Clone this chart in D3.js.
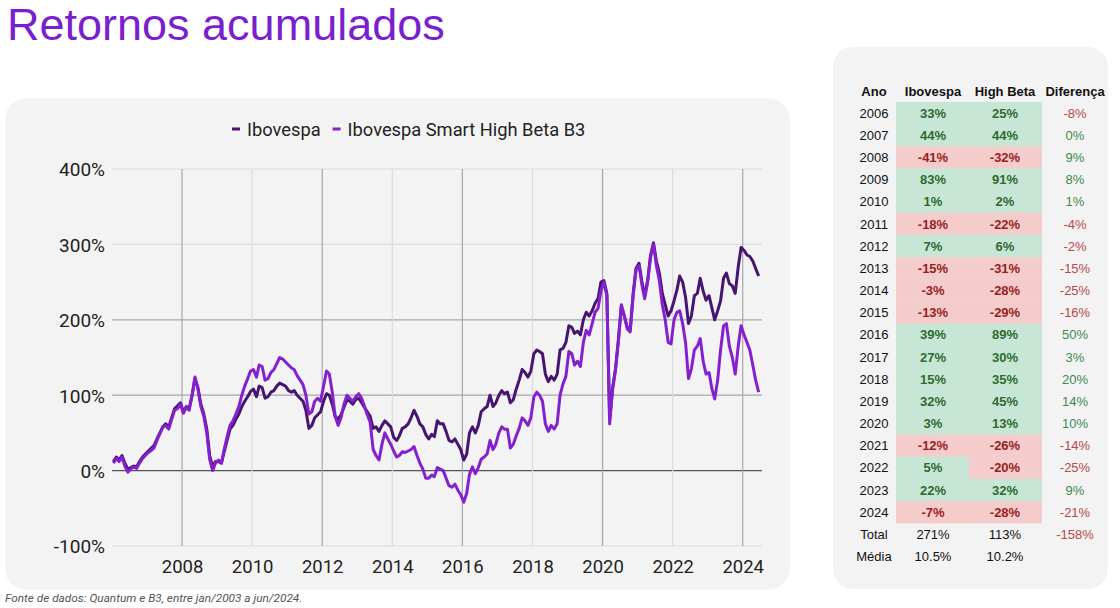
<!DOCTYPE html>
<html>
<head>
<meta charset="utf-8">
<script src="https://cdn.jsdelivr.net/npm/d3@7"></script>
<style>
body { margin: 0; background: #fff; }
</style>
</head>
<body>
<div id="chart"></div>
<script>
var width = 1120;
var height = 608;

// monthly cumulative return (%), jan/2006 .. jun/2024
var ibov = [
  12, 18, 14, 20, 10, 2, 4, 6, 5, 12, 18, 22,            // 2006
  26, 30, 33, 42, 50, 58, 62, 58, 70, 82, 86, 90,        // 2007
  78, 85, 82, 100, 122, 110, 88, 75, 55, 20, 5, 12,      // 2008
  12, 10, 25, 40, 55, 60, 68, 75, 85, 92, 98, 105,       // 2009
  108, 98, 112, 110, 96, 98, 104, 106, 112, 116, 114, 112, // 2010
  106, 104, 106, 100, 96, 92, 80, 56, 60, 70, 74, 78,    // 2011
  92, 102, 100, 88, 72, 68, 74, 84, 94, 92, 88, 94,      // 2012
  96, 90, 84, 78, 72, 56, 58, 52, 60, 66, 62, 58,        // 2013
  44, 40, 46, 56, 58, 62, 70, 80, 72, 62, 58, 48,        // 2014
  42, 48, 45, 66, 62, 62, 52, 40, 38, 42, 35, 28,        // 2015
  14, 22, 50, 58, 50, 60, 78, 82, 85, 100, 85, 90,       // 2016
  100, 106, 102, 104, 90, 94, 108, 120, 134, 130, 124, 132, // 2017
  155, 160, 158, 155, 128, 118, 125, 120, 128, 160, 162, 170, // 2018
  192, 190, 182, 185, 180, 200, 210, 205, 212, 222, 228, 250, // 2019
  252, 235, 68, 110, 135, 175, 218, 205, 190, 186, 235, 268,  // 2020
  275, 250, 232, 252, 285, 302, 278, 262, 235, 220, 205, 212, // 2021
  225, 240, 258, 250, 230, 195, 205, 232, 235, 255, 238, 226, // 2022
  232, 215, 200, 212, 225, 255, 262, 248, 245, 235, 270, 296, // 2023
  292, 286, 284, 278, 268, 258                                // 2024
];
var highBeta = [
  10, 16, 12, 18, 6, -2, 2, 5, 3, 10, 16, 20,
  24, 27, 30, 40, 49, 58, 60, 55, 68, 80, 82, 88,
  76, 84, 80, 100, 124, 108, 85, 72, 50, 15, 0, 10,
  14, 10, 28, 45, 60, 66, 75, 85, 100, 112, 122, 132,
  134, 124, 140, 138, 120, 122, 130, 134, 142, 150, 148, 144,
  140, 136, 134, 126, 120, 114, 100, 75, 78, 92, 96, 92,
  112, 132, 128, 104, 72, 60, 70, 88, 100, 96, 92, 98,
  102, 96, 86, 74, 64, 28, 20, 14, 35, 50, 42, 35,
  26, 18, 20, 25, 24, 26, 28, 32, 20, 10, 2, -10,
  -10, -6, -8, 4, 2, 0, -10, -20, -22, -18, -26, -32,
  -42, -30, -5, 5, -4, 4, 15, 18, 22, 40, 28, 35,
  50, 58, 55, 55, 30, 35, 46, 56, 70, 66, 60, 70,
  98, 104, 100, 92, 62, 52, 60, 55, 62, 100, 115, 125,
  158, 155, 140, 145, 138, 170, 186, 180, 195, 210, 215, 238,
  250, 232, 62, 108, 133, 172, 220, 205, 188, 184, 232, 266,
  272, 246, 228, 250, 283, 300, 272, 252, 220, 200, 170, 168,
  200, 210, 212, 195, 170, 122, 135, 160, 165, 175, 145, 128,
  130, 108, 95, 120, 160, 192, 195, 165, 150, 128, 165, 192,
  180, 170, 160, 140, 120, 104
];
var yTicks = [-100, 0, 100, 200, 300, 400];
var xTickYears = [2008, 2010, 2012, 2014, 2016, 2018, 2020, 2022, 2024];
var seriesNames = ["Ibovespa", "Ibovespa Smart High Beta B3"];

// table
var tableHead = ["Ano", "Ibovespa", "High Beta", "Diferença"];
var tableYears = [2006, 2007, 2008, 2009, 2010, 2011, 2012, 2013, 2014, 2015,
                  2016, 2017, 2018, 2019, 2020, 2021, 2022, 2023, 2024];
var ibovYear = [33, 44, -41, 83, 1, -18, 7, -15, -3, -13, 39, 27, 15, 32, 3, -12, 5, 22, -7];
var hbYear = [25, 44, -32, 91, 2, -22, 6, -31, -28, -29, 89, 30, 35, 45, 13, -26, -20, 32, -28];
var diffYear = [-8, 0, 9, 8, 1, -4, -2, -15, -25, -16, 50, 3, 20, 14, 10, -14, -25, 9, -21];
var totalRow = ["Total", "271%", "113%", "-158%"];
var mediaRow = ["Média", "10.5%", "10.2%", ""];

var darkPurple = "#471470";
var lightPurple = "#8520cf";

var svg = d3.select("#chart")
   .append("svg")
   .attr("width", width)
   .attr("height", height);

// title
svg.append("text")
   .attr("x", 7)
   .attr("y", 40)
   .attr("font-family", "Liberation Sans, Arial, sans-serif")
   .attr("font-size", "45px")
   .attr("fill", "#7a1fcf")
   .text("Retornos acumulados");

// cards
svg.append("rect")
   .attr("x", 5).attr("y", 98)
   .attr("width", 785).attr("height", 492)
   .attr("rx", 22)
   .attr("fill", "#f3f3f3");

svg.append("rect")
   .attr("x", 833).attr("y", 47)
   .attr("width", 275).attr("height", 542)
   .attr("rx", 20)
   .attr("fill", "#f3f3f3");

// scales
var dates = d3.timeMonth.range(new Date(2006, 0, 1), new Date(2024, 6, 1))
   .map(function(d) { return d3.timeDay.offset(d, 14); });

var x = d3.scaleTime()
   .domain([new Date(2006, 0, 1), new Date(2024, 6, 20)])
   .range([112, 762]);
var y = d3.scaleLinear()
   .domain([-100, 400])
   .range([546, 169]);

// grid
var hColor = function(v) {
   if (v == 0) return "#555";
   if (v == 100 || v == 200) return "#a8a8a8";
   return "#dcdcdc";
};
svg.append("g")
   .selectAll("line")
   .data(yTicks)
   .enter()
   .append("line")
   .attr("x1", 112).attr("x2", 762)
   .attr("y1", function(d) { return y(d); })
   .attr("y2", function(d) { return y(d); })
   .attr("stroke", hColor)
   .attr("stroke-width", 1.2);

svg.append("g")
   .selectAll("line")
   .data(xTickYears)
   .enter()
   .append("line")
   .attr("x1", function(d) { return x(new Date(d, 0, 1)); })
   .attr("x2", function(d) { return x(new Date(d, 0, 1)); })
   .attr("y1", y(400)).attr("y2", y(-100))
   .attr("stroke", function(d) { return d % 4 == 0 ? "#a8a8a8" : "#dcdcdc"; })
   .attr("stroke-width", 1.2);

// axes
var yAxis = svg.append("g")
   .attr("transform", "translate(105,0)")
   .call(d3.axisLeft(y).tickValues(yTicks).tickSize(0).tickPadding(0)
      .tickFormat(function(d) { return d + "%"; }));
var xAxis = svg.append("g")
   .attr("transform", "translate(0,555)")
   .call(d3.axisBottom(x)
      .tickValues(xTickYears.map(function(d) { return new Date(d, 0, 1); }))
      .tickSize(0).tickPadding(0)
      .tickFormat(d3.timeFormat("%Y")));
[yAxis, xAxis].forEach(function(a) {
   a.select(".domain").remove();
   a.selectAll("text")
      .attr("font-family", "Roboto, sans-serif")
      .attr("font-size", "18.5px")
      .attr("fill", "#222");
});
yAxis.selectAll("text").attr("font-size", "19px").attr("dy", "0.36em");
xAxis.selectAll("text").attr("dy", "0.95em");

// lines
var line = d3.line()
   .x(function(d, i) { return x(dates[i]); })
   .y(function(d) { return y(d); });

svg.append("path")
   .datum(ibov)
   .attr("d", line)
   .attr("fill", "none")
   .attr("stroke", darkPurple)
   .attr("stroke-width", 3)
   .attr("stroke-linejoin", "round");

svg.append("path")
   .datum(highBeta)
   .attr("d", line)
   .attr("fill", "none")
   .attr("stroke", lightPurple)
   .attr("stroke-width", 3)
   .attr("stroke-linejoin", "round");

// legend
var legend = svg.append("g");
var lx = 232;
seriesNames.forEach(function(name, i) {
   legend.append("line")
      .attr("x1", lx).attr("x2", lx + 8)
      .attr("y1", 129).attr("y2", 129)
      .attr("stroke", i == 0 ? darkPurple : lightPurple)
      .attr("stroke-width", 3);
   var t = legend.append("text")
      .attr("x", lx + 15)
      .attr("y", 136)
      .attr("font-family", "Roboto, sans-serif")
      .attr("font-size", "18.3px")
      .attr("fill", "#222")
      .text(name);
   lx = lx + 15 + t.node().getComputedTextLength() + 12;
});

// footnote
svg.append("text")
   .attr("x", 5)
   .attr("y", 602)
   .attr("font-family", "Roboto, sans-serif")
   .attr("font-style", "italic")
   .attr("font-size", "11.8px")
   .attr("fill", "#555")
   .text("Fonte de dados: Quantum e B3, entre jan/2003 a jun/2024.");

// table
var colX = [874, 933, 1005, 1075];
var rowH = 22.17;
var row0 = 113;
var tfont = "Liberation Sans, Arial, sans-serif";
var pct = function(v) { return v + "%"; };

var table = svg.append("g");

table.selectAll("text.head")
   .data(tableHead)
   .enter()
   .append("text")
   .attr("x", function(d, i) { return colX[i]; })
   .attr("y", 91)
   .attr("dy", "0.35em")
   .attr("text-anchor", "middle")
   .attr("font-family", tfont)
   .attr("font-size", "13px")
   .attr("font-weight", "bold")
   .attr("fill", "#111")
   .text(function(d) { return d; });

var rows = table.selectAll("g.row")
   .data(tableYears)
   .enter()
   .append("g")
   .attr("transform", function(d, i) { return "translate(0," + (row0 + i * rowH) + ")"; });

[ibovYear, hbYear].forEach(function(arr, c) {
   rows.append("rect")
      .attr("x", c == 0 ? 896 : 969)
      .attr("y", -rowH / 2)
      .attr("width", 73)
      .attr("height", rowH + 0.3)
      .attr("fill", function(d, i) { return arr[i] >= 0 ? "#c8e6d6" : "#f3cccb"; });
   rows.append("text")
      .attr("x", colX[c + 1])
      .attr("dy", "0.36em")
      .attr("text-anchor", "middle")
      .attr("font-family", tfont)
      .attr("font-size", "13px")
      .attr("font-weight", "bold")
      .attr("fill", function(d, i) { return arr[i] >= 0 ? "#2f6a31" : "#9a1d1d"; })
      .text(function(d, i) { return pct(arr[i]); });
});

rows.append("text")
   .attr("x", colX[0])
   .attr("dy", "0.36em")
   .attr("text-anchor", "middle")
   .attr("font-family", tfont)
   .attr("font-size", "13px")
   .attr("fill", "#111")
   .text(function(d) { return d; });

rows.append("text")
   .attr("x", colX[3])
   .attr("dy", "0.36em")
   .attr("text-anchor", "middle")
   .attr("font-family", tfont)
   .attr("font-size", "13px")
   .attr("fill", function(d, i) { return diffYear[i] >= 0 ? "#3c8a50" : "#b8484a"; })
   .text(function(d, i) { return pct(diffYear[i]); });

[totalRow, mediaRow].forEach(function(r, k) {
   table.selectAll("text.foot" + k)
      .data(r)
      .enter()
      .append("text")
      .attr("x", function(d, i) { return colX[i]; })
      .attr("y", row0 + (tableYears.length + k) * rowH)
      .attr("dy", "0.36em")
      .attr("text-anchor", "middle")
      .attr("font-family", tfont)
      .attr("font-size", "13px")
      .attr("fill", function(d, i) { return i == 3 ? "#b8484a" : "#111"; })
      .text(function(d) { return d; });
});
</script>
</body>
</html>
